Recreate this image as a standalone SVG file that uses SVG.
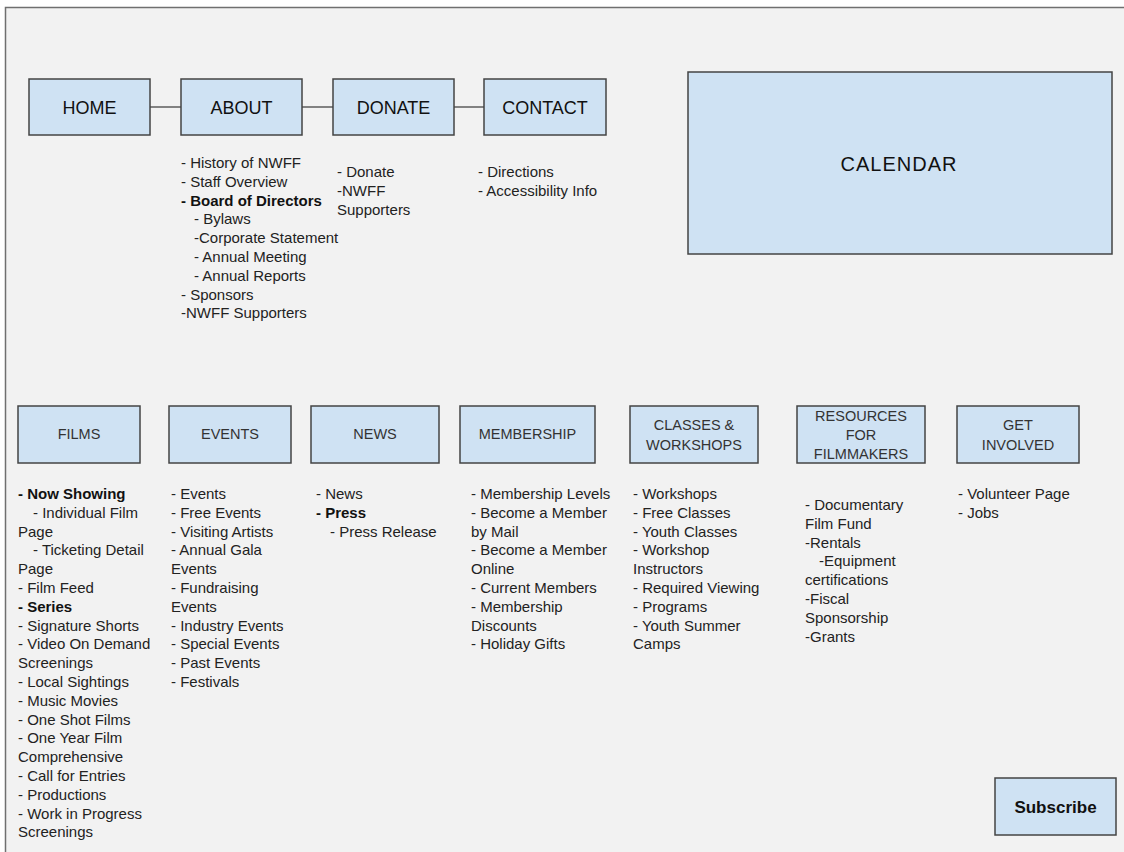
<svg xmlns="http://www.w3.org/2000/svg" width="1124" height="852" viewBox="0 0 1124 852">
<style>
.box{fill:#cfe2f3;stroke:#444;stroke-width:1.5}
.conn{stroke:#444;stroke-width:1.3;fill:none}
.top{font-family:"Liberation Sans",Arial,sans-serif;font-size:18px;fill:#111;text-anchor:middle}
.lbl{font-family:"Liberation Sans",Arial,sans-serif;font-size:14.5px;fill:#333;text-anchor:middle}
.lst{font-family:"Liberation Sans",Arial,sans-serif;font-size:15px;fill:#222}
.b{font-weight:bold;fill:#111}
</style>
<rect x="0" y="0" width="1124" height="852" fill="#ffffff"/>
<rect x="5" y="7" width="1119" height="845" fill="#f2f2f2"/>
<path d="M5.5 852 V7.5 H1124" fill="none" stroke="#6f6f6f" stroke-width="1.5"/>
<g id="connectors">
<line class="conn" x1="150" y1="107" x2="181" y2="107"/>
<line class="conn" x1="302" y1="107" x2="333" y2="107"/>
<line class="conn" x1="454" y1="107" x2="484" y2="107"/>
</g>
<g id="home"><rect class="box" x="29" y="79" width="121" height="56"/><text class="top" x="89.5" y="114">HOME</text></g>
<g id="about"><rect class="box" x="181" y="79" width="121" height="56"/><text class="top" x="241.5" y="114">ABOUT</text>
<text class="lst" y="168"><tspan x="181">- History of NWFF</tspan><tspan x="181" dy="18.8">- Staff Overview</tspan><tspan x="181" dy="18.8" class="b">- Board of Directors</tspan><tspan x="194" dy="18.8">- Bylaws</tspan><tspan x="194" dy="18.8">-Corporate Statement</tspan><tspan x="194" dy="18.8">- Annual Meeting</tspan><tspan x="194" dy="18.8">- Annual Reports</tspan><tspan x="181" dy="18.8">- Sponsors</tspan><tspan x="181" dy="18.8">-NWFF Supporters</tspan></text></g>
<g id="donate"><rect class="box" x="333" y="79" width="121" height="56"/><text class="top" x="393.5" y="114">DONATE</text>
<text class="lst" y="177"><tspan x="337">- Donate</tspan><tspan x="337" dy="18.8">-NWFF</tspan><tspan x="337" dy="18.8">Supporters</tspan></text></g>
<g id="contact"><rect class="box" x="484" y="79" width="122" height="56"/><text class="top" x="545" y="114">CONTACT</text>
<text class="lst" y="177"><tspan x="478">- Directions</tspan><tspan x="478" dy="18.8">- Accessibility Info</tspan></text></g>
<g id="calendar"><rect class="box" x="688" y="72" width="424" height="182"/><text class="top" x="899" y="171" style="font-size:20px;letter-spacing:1px">CALENDAR</text></g>
<g id="films"><rect class="box" x="18" y="406" width="122" height="57"/><text class="lbl" x="79" y="439">FILMS</text>
<text class="lst" y="499"><tspan x="18" class="b">- Now Showing</tspan><tspan x="33" dy="18.8">- Individual Film</tspan><tspan x="18" dy="18.8">Page</tspan><tspan x="33" dy="18.8">- Ticketing Detail</tspan><tspan x="18" dy="18.8">Page</tspan><tspan x="18" dy="18.8">- Film Feed</tspan><tspan x="18" dy="18.8" class="b">- Series</tspan><tspan x="18" dy="18.8">- Signature Shorts</tspan><tspan x="18" dy="18.8">- Video On Demand</tspan><tspan x="18" dy="18.8">Screenings</tspan><tspan x="18" dy="18.8">- Local Sightings</tspan><tspan x="18" dy="18.8">- Music Movies</tspan><tspan x="18" dy="18.8">- One Shot Films</tspan><tspan x="18" dy="18.8">- One Year Film</tspan><tspan x="18" dy="18.8">Comprehensive</tspan><tspan x="18" dy="18.8">- Call for Entries</tspan><tspan x="18" dy="18.8">- Productions</tspan><tspan x="18" dy="18.8">- Work in Progress</tspan><tspan x="18" dy="18.8">Screenings</tspan></text></g>
<g id="events"><rect class="box" x="169" y="406" width="122" height="57"/><text class="lbl" x="230" y="439">EVENTS</text>
<text class="lst" y="499"><tspan x="171">- Events</tspan><tspan x="171" dy="18.8">- Free Events</tspan><tspan x="171" dy="18.8">- Visiting Artists</tspan><tspan x="171" dy="18.8">- Annual Gala</tspan><tspan x="171" dy="18.8">Events</tspan><tspan x="171" dy="18.8">- Fundraising</tspan><tspan x="171" dy="18.8">Events</tspan><tspan x="171" dy="18.8">- Industry Events</tspan><tspan x="171" dy="18.8">- Special Events</tspan><tspan x="171" dy="18.8">- Past Events</tspan><tspan x="171" dy="18.8">- Festivals</tspan></text></g>
<g id="news"><rect class="box" x="311" y="406" width="128" height="57"/><text class="lbl" x="375" y="439">NEWS</text>
<text class="lst" y="499"><tspan x="316">- News</tspan><tspan x="316" dy="18.8" class="b">- Press</tspan><tspan x="330" dy="18.8">- Press Release</tspan></text></g>
<g id="membership"><rect class="box" x="460" y="406" width="135" height="57"/><text class="lbl" x="527.5" y="439">MEMBERSHIP</text>
<text class="lst" y="499"><tspan x="471">- Membership Levels</tspan><tspan x="471" dy="18.8">- Become a Member</tspan><tspan x="471" dy="18.8">by Mail</tspan><tspan x="471" dy="18.8">- Become a Member</tspan><tspan x="471" dy="18.8">Online</tspan><tspan x="471" dy="18.8">- Current Members</tspan><tspan x="471" dy="18.8">- Membership</tspan><tspan x="471" dy="18.8">Discounts</tspan><tspan x="471" dy="18.8">- Holiday Gifts</tspan></text></g>
<g id="classes"><rect class="box" x="630" y="406" width="128" height="57"/><text class="lbl" x="694" y="430">CLASSES &amp;</text><text class="lbl" x="694" y="450">WORKSHOPS</text>
<text class="lst" y="499"><tspan x="633">- Workshops</tspan><tspan x="633" dy="18.8">- Free Classes</tspan><tspan x="633" dy="18.8">- Youth Classes</tspan><tspan x="633" dy="18.8">- Workshop</tspan><tspan x="633" dy="18.8">Instructors</tspan><tspan x="633" dy="18.8">- Required Viewing</tspan><tspan x="633" dy="18.8">- Programs</tspan><tspan x="633" dy="18.8">- Youth Summer</tspan><tspan x="633" dy="18.8">Camps</tspan></text></g>
<g id="resources"><rect class="box" x="797" y="406" width="128" height="57"/><text class="lbl" x="861" y="421">RESOURCES</text><text class="lbl" x="861" y="440">FOR</text><text class="lbl" x="861" y="459">FILMMAKERS</text>
<text class="lst" y="510"><tspan x="805">- Documentary</tspan><tspan x="805" dy="18.8">Film Fund</tspan><tspan x="805" dy="18.8">-Rentals</tspan><tspan x="819" dy="18.8">-Equipment</tspan><tspan x="805" dy="18.8">certifications</tspan><tspan x="805" dy="18.8">-Fiscal</tspan><tspan x="805" dy="18.8">Sponsorship</tspan><tspan x="805" dy="18.8">-Grants</tspan></text></g>
<g id="get-involved"><rect class="box" x="957" y="406" width="122" height="57"/><text class="lbl" x="1018" y="430">GET</text><text class="lbl" x="1018" y="450">INVOLVED</text>
<text class="lst" y="499"><tspan x="958">- Volunteer Page</tspan><tspan x="958" dy="18.8">- Jobs</tspan></text></g>
<g id="subscribe"><rect class="box" x="995" y="778" width="121" height="57"/><text class="top" x="1055.5" y="813" style="font-size:17px;font-weight:bold">Subscribe</text></g>
</svg>
